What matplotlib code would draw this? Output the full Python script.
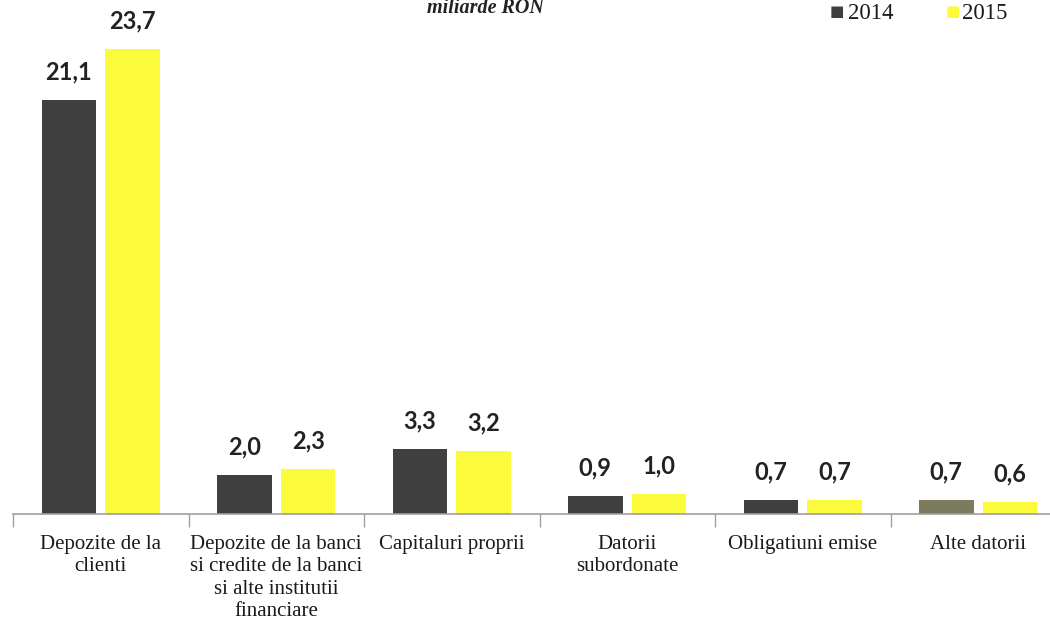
import matplotlib
matplotlib.use("Agg")
import matplotlib.pyplot as plt
import numpy as np

categories = [
    "Depozite de la\nclienti",
    "Depozite de la banci\nsi credite de la banci\nsi alte institutii\nfinanciare",
    "Capitaluri proprii",
    "Datorii\nsubordonate",
    "Obligatiuni emise",
    "Alte datorii",
]
values_2014 = [21.1, 2.0, 3.3, 0.9, 0.7, 0.7]
values_2015 = [23.7, 2.3, 3.2, 1.0, 0.7, 0.6]
series_labels = ["2014", "2015"]

color_2014 = "#3f3f3f"
color_2015 = "#fbfb3c"

fig = plt.figure(figsize=(10.5, 6.2), dpi=100)
ax = fig.add_axes([13 / 1050, 106 / 620, 1053 / 1050, 514 / 620])

x = np.arange(len(categories))
width = 0.31
offset = 0.182

bars14 = ax.bar(x - offset, values_2014, width, color=color_2014)
bars15 = ax.bar(x + offset, values_2015, width, color=color_2015)
# the last dark bar is printed in a lighter, olive grey
bars14[-1].set_facecolor("#7d7b5e")

value_font = dict(family="Lato", size=17, weight="bold", color="#222222")
for bars, vals in ((bars14, values_2014), (bars15, values_2015)):
    for b, v in zip(bars, vals):
        ax.annotate(f"{v:.1f}".replace(".", ","),
                    xy=(b.get_x() + b.get_width() / 2, v),
                    xytext=(0, 12), textcoords="offset points",
                    ha="center", va="bottom", **value_font)

ax.set_xlim(-0.5, len(categories) - 0.5)
ax.set_ylim(0, 26.2)

for s in ("top", "right", "left"):
    ax.spines[s].set_visible(False)
ax.spines["bottom"].set_color("#a0a0a0")
ax.spines["bottom"].set_linewidth(1.2)
ax.set_yticks([])

ax.set_xticks(np.arange(len(categories) + 1) - 0.5, minor=True)
ax.tick_params(axis="x", which="minor", length=9, color="#a0a0a0", width=1)
ax.set_xticks(x)
ax.set_xticklabels(categories, family="Liberation Serif", fontsize=15,
                   color="#1a1a1a", linespacing=1.25)
ax.tick_params(axis="x", which="major", length=0, pad=15)

# Title and legend along the top edge
fig.text(485 / 1050, 1 - 13 / 620, "miliarde RON", ha="center", va="baseline",
         family="Liberation Serif", style="italic", weight="bold",
         fontsize=14.5, color="#222222")

fig.text(837 / 1050, 1 - 12 / 620, "■", ha="center", va="center",
         fontsize=11, color=color_2014)
fig.text(848 / 1050, 1 - 19 / 620, series_labels[0], ha="left", va="baseline",
         family="Liberation Serif", fontsize=16.5, color="#1a1a1a")
fig.text(953 / 1050, 1 - 12 / 620, "■", ha="center", va="center",
         fontsize=11, color=color_2015)
fig.text(962 / 1050, 1 - 19 / 620, series_labels[1], ha="left", va="baseline",
         family="Liberation Serif", fontsize=16.5, color="#1a1a1a")

fig.savefig("out.png", dpi=100)
